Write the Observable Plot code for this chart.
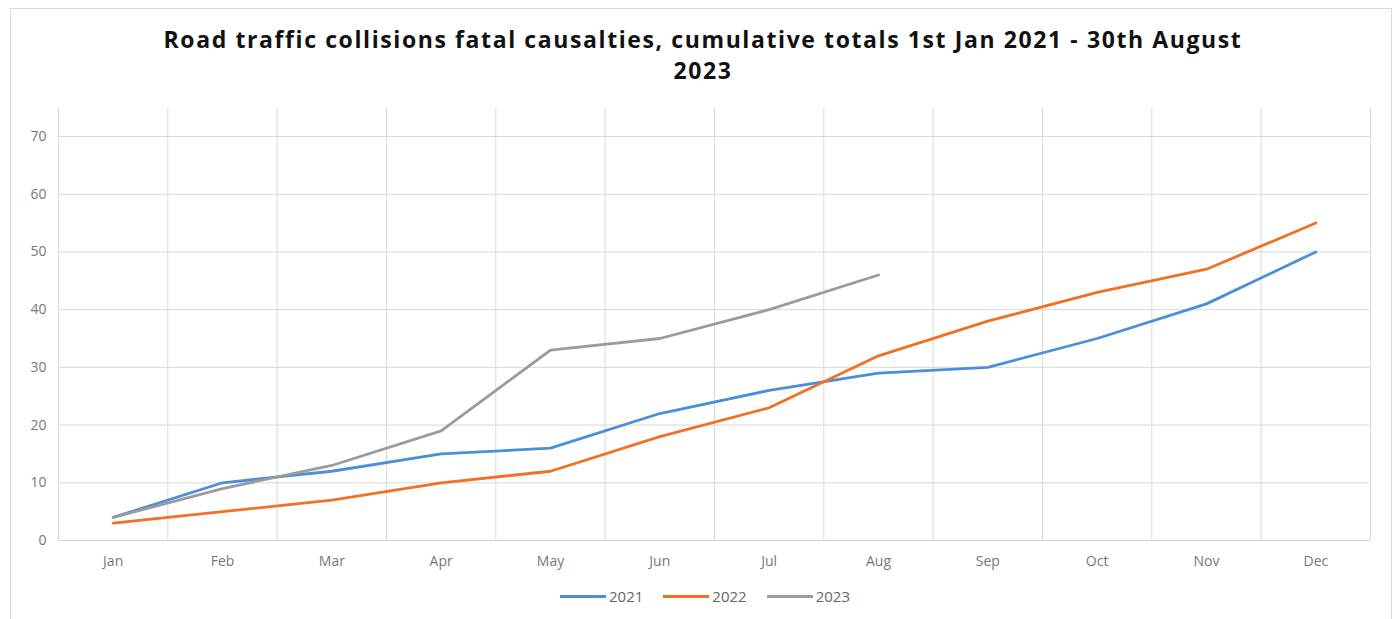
<!DOCTYPE html>
<html>
<head>
<meta charset="utf-8">
<script src="https://cdn.jsdelivr.net/npm/d3@7"></script>
<script src="https://cdn.jsdelivr.net/npm/@observablehq/plot@0.6"></script>
<style>
  html, body { margin: 0; padding: 0; background: #fff; }
  body { width: 1400px; height: 619px; position: relative; overflow: hidden; font-family: "Open Sans", "Liberation Sans", sans-serif; }
  #frame { position: absolute; left: 10px; top: 8px; width: 1382px; height: 614px; border: 1px solid #d9d9d9; box-sizing: border-box; }
  #title { position: absolute; left: 0; top: 24px; width: 1406px; text-align: center; font-weight: bold; font-size: 23px; letter-spacing: 1.6px; line-height: 31px; color: #111; }
  #chart { position: absolute; left: 0; top: 100px; }
  #legend { position: absolute; left: 0; top: 586px; width: 1410px; display: flex; justify-content: center; gap: 20px; font-size: 15px; color: #666; }
  .item { display: flex; align-items: center; }
  .swatch { width: 46px; height: 3px; margin-right: 3px; }
</style>
</head>
<body>
<div id="frame"></div>
<div id="title">Road traffic collisions fatal causalties, cumulative totals 1st Jan 2021 - 30th August<br>2023</div>
<div id="chart"></div>
<div id="legend"></div>
<script>
const months = ["Jan","Feb","Mar","Apr","May","Jun","Jul","Aug","Sep","Oct","Nov","Dec"];
const years = ["2021","2022","2023"];
const values2021 = [4, 10, 12, 15, 16, 22, 26, 29, 30, 35, 41, 50];
const values2022 = [3, 5, 7, 10, 12, 18, 23, 32, 38, 43, 47, 55];
const values2023 = [4, 9, 13, 19, 33, 35, 40, 46];
const yTicks = [0, 10, 20, 30, 40, 50, 60, 70];
const colors = ["#4b8fd8", "#ef7125", "#9b9b9b"];

const series = [values2021, values2022, values2023];
const data = [];
series.forEach((vals, s) => vals.forEach((v, i) => data.push({year: years[s], month: i, value: v})));
const boundaries = d3.range(months.length + 1).map(i => i - 0.5);

const chart = Plot.plot({
  width: 1400,
  height: 480,
  marginLeft: 58,
  marginRight: 30,
  marginTop: 36,
  marginBottom: 40,
  style: {fontFamily: "'Open Sans', sans-serif", fontSize: "14px", color: "#777", background: "transparent"},
  x: {domain: [-0.5, months.length - 0.5], ticks: d3.range(months.length), tickFormat: i => months[i], tickSize: 0, tickPadding: 16, label: null},
  y: {domain: [0, 70], ticks: yTicks, tickSize: 0, tickPadding: 12, label: null},
  color: {domain: years, range: colors},
  marks: [
    Plot.gridY(yTicks, {stroke: "#d9d9d9", strokeOpacity: 1}),
    Plot.ruleX(boundaries, {stroke: "#d9d9d9", insetTop: -28}),
    Plot.ruleY([0], {stroke: "#d0d0d0"}),
    Plot.line(data, {x: "month", y: "value", z: "year", stroke: "year", strokeWidth: 2.8, curve: "linear"})
  ]
});
document.getElementById("chart").appendChild(chart);

const legend = document.getElementById("legend");
years.forEach((y, i) => {
  const item = document.createElement("div");
  item.className = "item";
  const sw = document.createElement("div");
  sw.className = "swatch";
  sw.style.background = colors[i];
  const lab = document.createElement("span");
  lab.textContent = y;
  item.appendChild(sw);
  item.appendChild(lab);
  legend.appendChild(item);
});
</script>
</body>
</html>
